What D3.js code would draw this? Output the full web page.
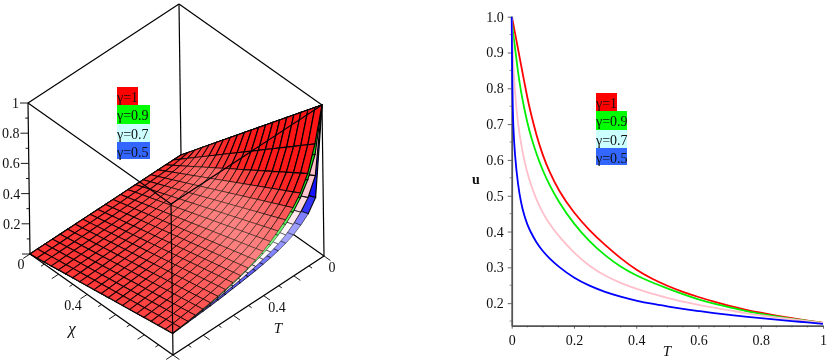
<!DOCTYPE html>
<html>
<head>
<meta charset="utf-8">
<script src="https://cdn.jsdelivr.net/npm/d3@7"></script>
<style>
    html, body { margin: 0; padding: 0; background: #fff; }
    svg { display: block; filter: blur(0.4px); }
    text { font-family: "Liberation Serif", serif; font-size: 14px; fill: #111; }
</style>
</head>
<body>
<div id="chart"></div>
<script>
'use strict';

var tValues = [0, 0.002, 0.005, 0.01, 0.02, 0.03, 0.04, 0.05, 0.06, 0.08, 0.1, 0.12, 0.15, 0.2, 0.25,
    0.3, 0.35, 0.4, 0.45, 0.5, 0.55, 0.6, 0.65, 0.7, 0.75, 0.8, 0.85, 0.9, 0.95, 1];
var uGamma1 = [1, 0.992, 0.98, 0.957, 0.912, 0.865, 0.82, 0.775, 0.735, 0.667, 0.612, 0.569, 0.515, 0.451, 0.403,
    0.362, 0.325, 0.293, 0.268, 0.248, 0.231, 0.217, 0.204, 0.192, 0.182, 0.173, 0.165, 0.158, 0.151, 0.145];
var uGamma09 = [1, 0.975, 0.95, 0.92, 0.845, 0.79, 0.745, 0.705, 0.67, 0.615, 0.57, 0.532, 0.484, 0.42, 0.372,
    0.333, 0.301, 0.277, 0.258, 0.241, 0.225, 0.21, 0.198, 0.188, 0.178, 0.17, 0.163, 0.156, 0.15, 0.145];
var uGamma07 = [1, 0.93, 0.87, 0.79, 0.7, 0.645, 0.6, 0.565, 0.535, 0.487, 0.452, 0.423, 0.388, 0.34, 0.303,
    0.276, 0.256, 0.24, 0.226, 0.215, 0.204, 0.195, 0.187, 0.18, 0.172, 0.166, 0.16, 0.155, 0.15, 0.145];
var uGamma05 = [1, 0.79, 0.69, 0.615, 0.53, 0.48, 0.445, 0.42, 0.4, 0.368, 0.345, 0.326, 0.302, 0.27, 0.248,
    0.231, 0.218, 0.207, 0.198, 0.191, 0.184, 0.178, 0.172, 0.167, 0.162, 0.158, 0.154, 0.15, 0.146, 0.142];

var gammaLabels = ['γ=1', 'γ=0.9', 'γ=0.7', 'γ=0.5'];
var legendColors = ['#ff0000', '#00ff00', '#ccffff', '#3366ff'];
var lineColors = ['#ff0000', '#00ee00', '#ffc0cb', '#0000ff'];
var seriesList = [uGamma1, uGamma09, uGamma07, uGamma05];

var surfaceColors = [[255, 0, 0], [0, 235, 0], [255, 190, 200], [0, 0, 255]];
var surfaceGain = [0.45, 0.45, 0.95, 0.6];
var baseTicks3d = [0, 0.1, 0.2, 0.3, 0.4, 0.5, 0.6, 0.7, 0.8, 0.9, 1];
var uLabels3d = [0.2, 0.4, 0.6, 0.8, 1];
var xTicks2d = [0, 0.2, 0.4, 0.6, 0.8, 1];
var yTicks2d = [0.2, 0.3, 0.4, 0.5, 0.6, 0.7, 0.8, 0.9, 1];

var svg = d3.select('#chart').append('svg').attr('width', 829).attr('height', 363);

draw3d();
draw2d();

////////////

function draw3d() {
    var g = svg.append('g').attr('id', 'surface3d');

    // affine box projection, one scale per model axis and screen axis
    var chiX = d3.scaleLinear().domain([0, 1]).range([0, 143]);
    var chiY = d3.scaleLinear().domain([0, 1]).range([0, 101]);
    var tX = d3.scaleLinear().domain([0, 1]).range([0, -151]);
    var tY = d3.scaleLinear().domain([0, 1]).range([0, 99]);
    var uX = d3.scaleLinear().domain([0, 1]).range([0, -2]);
    var uY = d3.scaleLinear().domain([0, 1]).range([0, -151]);

    function project(chi, t, u) {
        return [181 + chiX(chi) + tX(t) + uX(u), 155 + chiY(chi) + tY(t) + uY(u)];
    }

    function segment(p, q, width) {
        g.append('line').attr('x1', p[0]).attr('y1', p[1]).attr('x2', q[0]).attr('y2', q[1])
            .attr('stroke', '#000').attr('stroke-width', width);
    }

    function edge(a, b, width) {
        segment(project.apply(null, a), project.apply(null, b), width || 1.2);
    }

    // hidden side of the box goes under the surfaces
    edge([0, 0, 0], [0, 0, 1]);
    edge([0, 0, 1], [0, 1, 1]);
    edge([0, 0, 1], [1, 0, 1]);
    edge([0, 0, 0], [1, 0, 0]);
    edge([0, 0, 0], [0, 1, 0]);
    edge([1, 0, 0], [1, 0, 1]);
    edge([0, 1, 0], [0, 1, 1]);

    var meshIdx = d3.range(tValues.length).filter(function (i) {
        var v = tValues[i] * 20;
        return Math.abs(v - Math.round(v)) < 1e-6;
    });
    var chiGrid = d3.range(21).map(function (i) { return i / 20; });

    // lowest surface first, so gamma=1 ends on top
    [3, 2, 1, 0].forEach(function (s) {
        var f = seriesList[s];
        var cells = [];
        d3.pairs(meshIdx).forEach(function (pair) {
            d3.pairs(chiGrid).forEach(function (c) {
                cells.push({ a: pair[0], b: pair[1], c0: c[0], c1: c[1] });
            });
        });
        g.append('g').selectAll('path').data(cells).enter().append('path')
            .attr('d', function (d) {
                var t0 = tValues[d.a];
                var t1 = tValues[d.b];
                return d3.line()([
                    project(d.c0, t0, d.c0 * f[d.a]),
                    project(d.c1, t0, d.c1 * f[d.a]),
                    project(d.c1, t1, d.c1 * f[d.b]),
                    project(d.c0, t1, d.c0 * f[d.b])
                ]) + 'Z';
            })
            .attr('fill', function (d) { return shade(surfaceColors[s], surfaceGain[s] * light(f, d) + 0.08); })
            .attr('stroke', '#000')
            .attr('stroke-opacity', function (d) { return 1 - 0.5 * light(f, d); })
            .attr('stroke-width', function (d) { return 1.2 - 0.45 * light(f, d); });
    });

    // front of the box
    edge([0, 1, 1], [1, 1, 1]);
    edge([1, 0, 1], [1, 1, 1]);
    edge([1, 1, 0], [1, 1, 1]);
    edge([0, 1, 0], [1, 1, 0], 1.3);
    edge([1, 0, 0], [1, 1, 0], 1.3);

    // ticks: longer every 0.2, on the left post and both floor edges
    baseTicks3d.forEach(function (v, i) {
        var even = i % 2 === 0;
        var p = project(0, 1, v);
        segment(p, [p[0] - (even ? 8 : 3), p[1]], 0.9);
        var len = even ? 0.045 : 0.022;
        segment(project(v, 1, 0), project(v, 1 + len, 0), 0.9);
        segment(project(1, v, 0), project(1 + len, v, 0), 0.9);
    });

    g.selectAll('.u-label').data(uLabels3d).enter().append('text')
        .attr('class', 'u-label')
        .attr('text-anchor', 'end')
        .attr('x', function (d) { return project(0, 1, d)[0] - 9; })
        .attr('y', function (d) { return project(0, 1, d)[1] + 5; })
        .text(function (d) { return d === 1 ? '1' : d3.format('.1f')(d); });

    label(g, 21, 269, '0');
    label(g, 73, 310, '0.4');
    label(g, 72, 334, 'χ', true).style('font-size', '17px');
    label(g, 332, 272, '0');
    label(g, 277, 312, '0.4');
    label(g, 278, 333, 'T', true).style('font-size', '15px');

    legend(g, 117, 87, [21, 33, 33, 33], [18, 19, 18, 17]);
}

function light(f, d) {
    // light from above the middle of the sheet
    var slope = (f[d.b] - f[d.a]) / (tValues[d.b] - tValues[d.a]);
    var mid = (f[d.a] + f[d.b]) / 2;
    var chi = (d.c0 + d.c1) / 2;
    var nx = -mid;
    var ny = -chi * slope;
    var len = Math.sqrt(nx * nx + ny * ny + 1);
    var dot = (-0.26 * nx + 0.43 * ny + 0.86) / len;
    return Math.pow(Math.max(dot, 0), 12);
}

function shade(base, w) {
    return d3.rgb(
        base[0] + (255 - base[0]) * w,
        base[1] + (255 - base[1]) * w,
        base[2] + (255 - base[2]) * w
    ).formatHex();
}

function draw2d() {
    var g = svg.append('g').attr('id', 'lines2d');
    var x = d3.scaleLinear().domain([0, 1]).range([511.7, 823]);
    var y = d3.scaleLinear().domain([0.137, 1]).range([325.7, 16.7]);

    var xAxis = d3.axisBottom(x).tickValues(xTicks2d).tickSize(3).tickSizeOuter(0).tickPadding(6)
        .tickFormat(function (d) { return d === 0 || d === 1 ? d : d3.format('.1f')(d); });
    var yAxis = d3.axisLeft(y).tickValues(yTicks2d).tickSize(4).tickSizeOuter(0).tickPadding(4)
        .tickFormat(d3.format('.1f'));
    var xg = g.append('g').attr('transform', 'translate(0,325.7)').call(xAxis);
    var yg = g.append('g').attr('transform', 'translate(511.7,0)').call(yAxis);

    [xg, yg].forEach(function (a) {
        a.select('.domain').attr('stroke', '#555').attr('stroke-width', 1.8);
        a.selectAll('.tick line').attr('stroke', '#444').attr('stroke-width', 0.8);
        a.selectAll('text').style('font-family', '"Liberation Serif", serif').style('font-size', '14px');
    });

    g.selectAll('.x-minor').data(d3.range(0, 100, 5).filter(function (v) { return v % 20 !== 0; })).enter()
        .append('line').attr('class', 'x-minor')
        .attr('x1', function (d) { return x(d / 100); }).attr('x2', function (d) { return x(d / 100); })
        .attr('y1', 325.7).attr('y2', 327.5)
        .attr('stroke', '#444').attr('stroke-width', 0.6);
    g.selectAll('.y-minor').data(d3.range(15, 100, 10)).enter()
        .append('line').attr('class', 'y-minor')
        .attr('x1', 511.7).attr('x2', 509.5)
        .attr('y1', function (d) { return y(d / 100); }).attr('y2', function (d) { return y(d / 100); })
        .attr('stroke', '#444').attr('stroke-width', 0.6);

    var line = d3.line()
        .x(function (d) { return x(d[0]); })
        .y(function (d) { return y(d[1]); })
        .curve(d3.curveBasis);

    // gamma=0.5 on top at the left end, red underneath
    [0, 1, 2, 3].forEach(function (s) {
        g.append('path')
            .attr('d', line(d3.zip(tValues, seriesList[s])))
            .attr('fill', 'none')
            .attr('stroke', lineColors[s])
            .attr('stroke-width', 1.8);
    });

    label(g, 667, 356, 'T', true).style('font-size', '15px');
    label(g, 476, 184, 'u').style('font-weight', 'bold');

    legend(g, 596, 93, [21, 31, 31, 31], [18, 19, 18, 17]);
}

function legend(g, x0, y0, widths, heights) {
    var top = y0;
    gammaLabels.forEach(function (name, i) {
        g.append('rect').attr('x', x0).attr('y', top)
            .attr('width', widths[i]).attr('height', heights[i])
            .attr('fill', legendColors[i]);
        g.append('text').attr('x', x0).attr('y', top + 15).text(name);
        top += heights[i];
    });
}

function label(g, x, y, text, italic) {
    return g.append('text').attr('x', x).attr('y', y)
        .attr('text-anchor', 'middle')
        .style('font-style', italic ? 'italic' : 'normal')
        .text(text);
}
</script>
</body>
</html>
